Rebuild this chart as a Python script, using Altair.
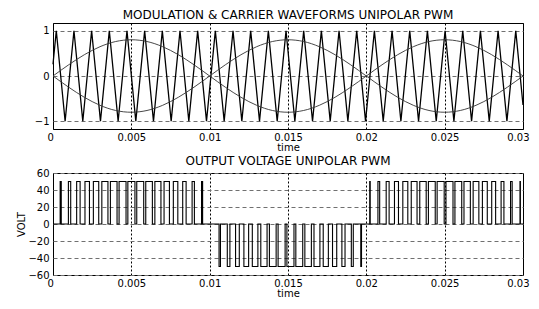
import altair as alt
import pandas as pd

# ---- data (time in seconds) ----
carrier_t = [0.0, 0.00021, 0.000774, 0.001338, 0.001902, 0.002466, 0.00303, 0.003594, 0.004158,
             0.004722, 0.005286, 0.00585, 0.006414, 0.006978, 0.007542, 0.008106, 0.00867,
             0.009234, 0.009798, 0.010362, 0.010926, 0.01149, 0.012054, 0.012618, 0.013182,
             0.013746, 0.01431, 0.014874, 0.015438, 0.016002, 0.016566, 0.01713, 0.017694,
             0.018258, 0.018822, 0.019386, 0.01995, 0.020514, 0.021078, 0.021642, 0.022206,
             0.02277, 0.023334, 0.023898, 0.024462, 0.025026, 0.02559, 0.026154, 0.026718,
             0.027282, 0.027846, 0.02841, 0.028974, 0.029538, 0.03]
carrier_v = [0.26, 1, -1, 1, -1, 1, -1, 1, -1, 1, -1, 1, -1, 1, -1, 1, -1, 1, -1, 1, -1, 1, -1,
             1, -1, 1, -1, 1, -1, 1, -1, 1, -1, 1, -1, 1, -1, 1, -1, 1, -1, 1, -1, 1, -1, 1, -1,
             1, -1, 1, -1, 1, -1, 1, -0.64]

mod_t = [0.0, 0.001, 0.002, 0.003, 0.004, 0.005, 0.006, 0.007, 0.008, 0.009, 0.010,
         0.011, 0.012, 0.013, 0.014, 0.015, 0.016, 0.017, 0.018, 0.019, 0.020,
         0.021, 0.022, 0.023, 0.024, 0.025, 0.026, 0.027, 0.028, 0.029, 0.030]
mod_pos = [0, 0.247, 0.470, 0.647, 0.761, 0.800, 0.761, 0.647, 0.470, 0.247, 0,
           -0.247, -0.470, -0.647, -0.761, -0.800, -0.761, -0.647, -0.470, -0.247, 0,
           0.247, 0.470, 0.647, 0.761, 0.800, 0.761, 0.647, 0.470, 0.247, 0]
mod_neg = [0, -0.247, -0.470, -0.647, -0.761, -0.800, -0.761, -0.647, -0.470, -0.247, 0,
           0.247, 0.470, 0.647, 0.761, 0.800, 0.761, 0.647, 0.470, 0.247, 0,
           -0.247, -0.470, -0.647, -0.761, -0.800, -0.761, -0.647, -0.470, -0.247, 0]

pulse_start = [0.000457, 0.000983, 0.00151, 0.002041, 0.002577, 0.003117, 0.003664, 0.004218,
               0.004778, 0.005346, 0.005921, 0.006502, 0.007089, 0.007681, 0.008279, 0.008879,
               0.009482,
               0.010599, 0.011125, 0.011653, 0.012185, 0.012722, 0.013264, 0.013813, 0.014368,
               0.014931, 0.0155, 0.016076, 0.016659, 0.017248, 0.017842, 0.01844, 0.019042,
               0.019645,
               0.020216, 0.02074, 0.021267, 0.021796, 0.022329, 0.022867, 0.023411, 0.023962,
               0.024519, 0.025084, 0.025655, 0.026233, 0.026818, 0.027408, 0.028003, 0.028602,
               0.029204, 0.029807]
pulse_end = [0.000527, 0.00113, 0.00173, 0.002327, 0.002919, 0.003507, 0.004088, 0.004662,
             0.00523, 0.00579, 0.006343, 0.00689, 0.007431, 0.007967, 0.008497, 0.009025,
             0.00955,
             0.010689, 0.011292, 0.011891, 0.012487, 0.013078, 0.013664, 0.014243, 0.014816,
             0.015381, 0.01594, 0.016492, 0.017037, 0.017576, 0.01811, 0.01864, 0.019167,
             0.019692,
             0.020248, 0.020852, 0.021454, 0.022052, 0.022647, 0.023237, 0.023821, 0.024398,
             0.024969, 0.025532, 0.026089, 0.026639, 0.027182, 0.02772, 0.028253, 0.028782,
             0.029308, 0.029833]
pulse_level = [50] * 17 + [-50] * 17 + [50] * 18

x_ticks = [0, 0.005, 0.01, 0.015, 0.02, 0.025, 0.03]
y_ticks_top = [-1, -0.5, 0, 0.5, 1]
y_ticks_bot = [-60, -40, -20, 0, 20, 40, 60]

# ---- tables ----
carrier_df = pd.DataFrame({"t": carrier_t, "v": carrier_v})
mod_df = pd.concat([
    pd.DataFrame({"t": mod_t, "v": mod_pos, "s": "pos"}),
    pd.DataFrame({"t": mod_t, "v": mod_neg, "s": "neg"}),
])
pts = [(0.0, 0)]
for s, e, lv in zip(pulse_start, pulse_end, pulse_level):
    pts += [(s, 0), (s, lv), (e, lv), (e, 0)]
pts.append((0.03, 0))
out_df = pd.DataFrame({"t": [p[0] for p in pts], "v": [p[1] for p in pts],
                       "i": list(range(len(pts)))})

FONT = "DejaVu Sans"
W = 470
xscale = alt.Scale(domain=[0, 0.03], nice=False, zero=False)


def xaxis():
    return alt.Axis(values=x_ticks, title="time", labelExpr="'' + datum.value",
                    grid=True, gridColor="black", gridDash=[2, 2], gridOpacity=1,
                    gridWidth=1, ticks=False, domain=False, labelPadding=3,
                    titlePadding=0, labelFlush=True, labelFlushOffset=6,
                    labelOverlap=False)


def yaxis(vals, title=None):
    kw = dict(values=vals, grid=True, gridColor="#707070", gridDash=[4, 3],
              gridOpacity=1, ticks=False, domain=False, labelPadding=4,
              labelOverlap=False)
    if title is None:
        return alt.Axis(title=None, **kw)
    return alt.Axis(title=title, titlePadding=1, **kw)


top_y = alt.Y("v:Q", scale=alt.Scale(domain=[-1.17, 1.17], nice=False),
              axis=yaxis(y_ticks_top))

carrier = alt.Chart(carrier_df).mark_line(color="black", strokeWidth=1.3).encode(
    x=alt.X("t:Q", scale=xscale, axis=xaxis()), y=top_y)
mods = alt.Chart(mod_df).mark_line(color="#333333", strokeWidth=0.9,
                                   interpolate="monotone").encode(
    x=alt.X("t:Q", scale=xscale), y=alt.Y("v:Q"), detail="s:N")

top = alt.layer(carrier, mods).properties(
    width=W, height=106,
    title=alt.TitleParams("MODULATION & CARRIER WAVEFORMS UNIPOLAR PWM", offset=1))

bot = alt.Chart(out_df).mark_line(color="black", strokeWidth=1.1).encode(
    x=alt.X("t:Q", scale=xscale, axis=xaxis()),
    y=alt.Y("v:Q", scale=alt.Scale(domain=[-60, 60], nice=False),
            axis=yaxis(y_ticks_bot, "VOLT")),
    order="i:Q",
).properties(width=W, height=102,
             title=alt.TitleParams("OUTPUT VOLTAGE UNIPOLAR PWM", offset=0))

chart = alt.vconcat(top, bot, spacing=1).properties(
    padding={"left": 8, "top": 0, "right": 0, "bottom": 0},
    background="white",
).configure_view(stroke="black", strokeWidth=1).configure_axis(
    labelFont=FONT, labelFontSize=10, labelColor="black",
    titleFont=FONT, titleFontSize=10, titleFontWeight="normal", titleColor="black",
).configure_title(font=FONT, fontSize=12, fontWeight="normal", color="black")

chart.save("out.html", embed_options={"renderer": "svg", "actions": False})
